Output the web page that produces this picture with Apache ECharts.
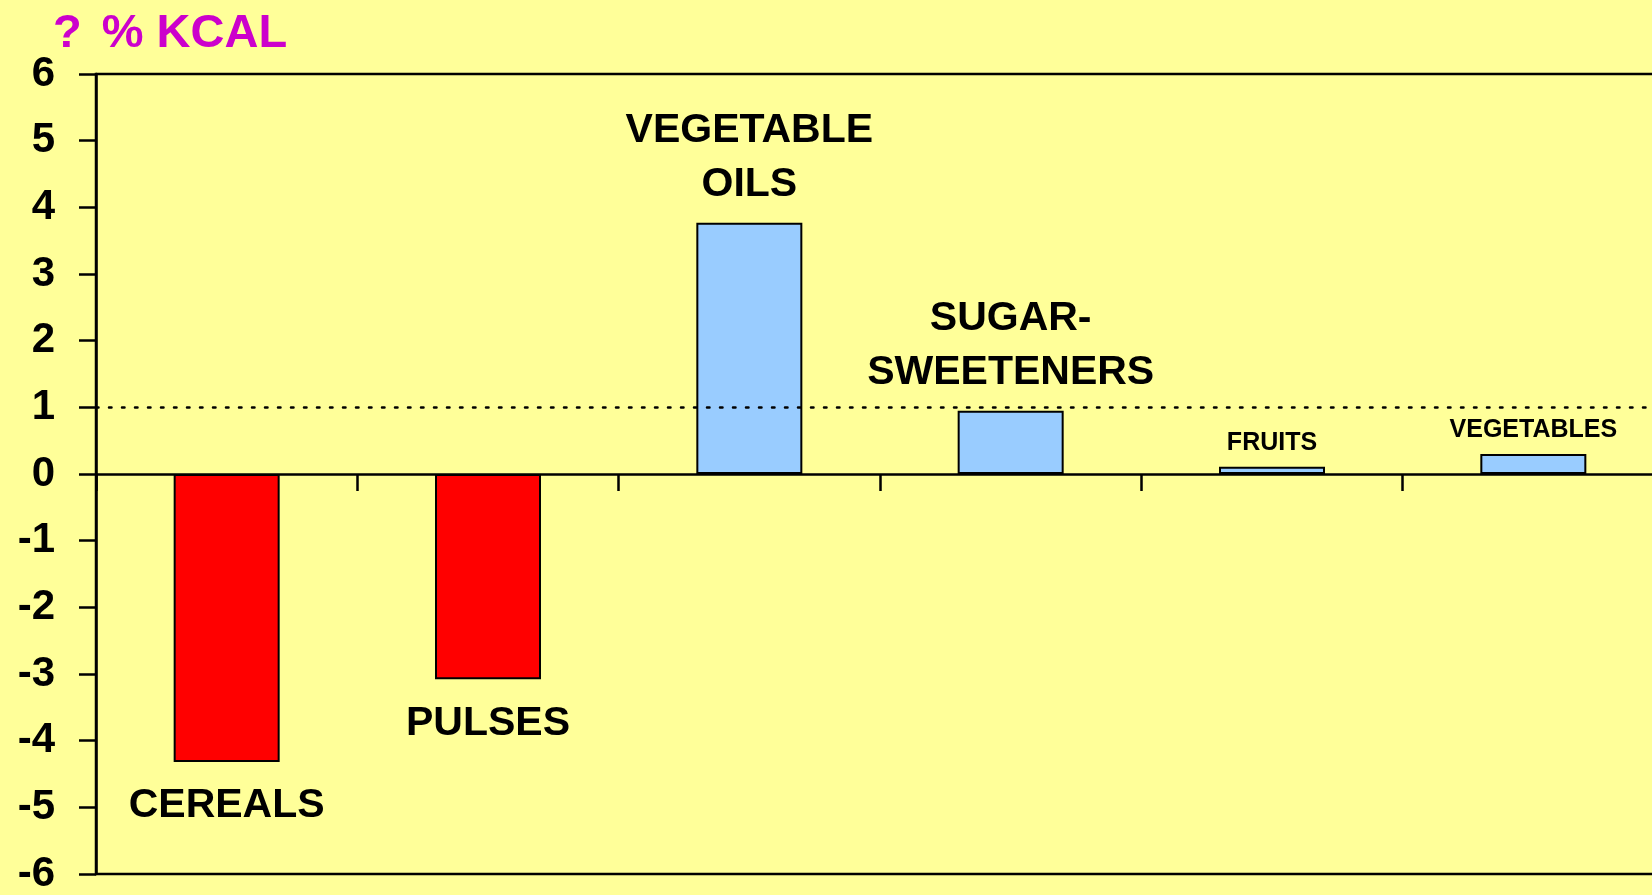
<!DOCTYPE html>
<html>
<head>
<meta charset="utf-8">
<script src="https://cdn.jsdelivr.net/npm/echarts@6/dist/echarts.min.js"></script>
<style>
html,body{margin:0;padding:0;background:#FFFF99;overflow:hidden;width:1652px;height:895px;}
#chart{width:1700px;height:895px;}
</style>
</head>
<body>
<div id="chart"></div>
<script>
// ---- data ----
const categories = ['CEREALS', 'PULSES', 'VEGETABLE\nOILS', 'SUGAR-\nSWEETENERS', 'FRUITS', 'VEGETABLES'];
const values = [-4.32, -3.08, 3.77, 0.95, 0.11, 0.30];
const referenceLevel = 1;
const yTicks = { min: -6, max: 6, interval: 1 };
const titleMark = '?';
const titleText = ' % KCAL';

// ---- styles ----
const FONT = "'Liberation Sans', Arial, sans-serif";
const bigLabel = { fontSize: 41, lineHeight: 54, distance: 11 };
const smallLabel = { fontSize: 25, lineHeight: 30, distance: 8.5 };
const negLabel = { fontSize: 41, lineHeight: 54, distance: 17 };

const seriesData = values.map((v, i) => {
  const st = v < 0 ? negLabel : (i >= 4 ? smallLabel : bigLabel);
  return {
    value: v,
    itemStyle: { color: v < 0 ? '#FF0000' : '#99CCFF' },
    label: {
      show: true,
      position: v < 0 ? 'bottom' : 'top',
      distance: st.distance,
      formatter: categories[i],
      fontSize: st.fontSize,
      lineHeight: st.lineHeight,
      fontWeight: 'bold',
      fontFamily: FONT,
      color: '#000',
      align: 'center'
    }
  };
});

const chart = echarts.init(document.getElementById('chart'), null, { renderer: 'canvas' });
chart.setOption({
  backgroundColor: '#FFFF99',
  animation: false,
  title: {
    text: '{q|' + titleMark + '}{t|' + titleText + '}',
    left: 48,
    top: 6,
    textStyle: {
      rich: {
        q: { color: '#CC00CC', fontSize: 47, fontWeight: 'bold', fontFamily: FONT, padding: [0, 7, 0, 0] },
        t: { color: '#CC00CC', fontSize: 47, fontWeight: 'bold', fontFamily: FONT }
      }
    }
  },
  grid: {
    left: 96, top: 74, width: 1568, height: 802,
    show: true, borderColor: '#000', borderWidth: 2.5, backgroundColor: 'transparent'
  },
  xAxis: {
    type: 'category',
    data: categories,
    boundaryGap: true,
    axisLine: { onZero: true, lineStyle: { color: '#000', width: 2.5 } },
    axisTick: { show: true, length: 17, alignWithLabel: false, lineStyle: { color: '#000', width: 2.5 } },
    axisLabel: { show: false },
    splitLine: { show: false }
  },
  yAxis: {
    type: 'value',
    min: yTicks.min, max: yTicks.max, interval: yTicks.interval,
    axisLine: { show: true, lineStyle: { color: '#000', width: 2.5 } },
    axisTick: { show: true, length: 17, lineStyle: { color: '#000', width: 2.5 } },
    axisLabel: { margin: 41, fontSize: 42, fontWeight: 'bold', fontFamily: FONT, color: '#000', padding: [10, 0, 0, 0] },
    splitLine: { show: false }
  },
  series: [{
    type: 'bar',
    data: seriesData,
    barWidth: 106,
    itemStyle: { borderColor: '#000', borderWidth: 2 },
    markLine: {
      silent: true,
      symbol: 'none',
      label: { show: false },
      lineStyle: { color: '#000', width: 2.5, type: [2.5, 10.5], cap: 'round' },
      data: [{ yAxis: referenceLevel }]
    }
  }]
});
</script>
</body>
</html>
